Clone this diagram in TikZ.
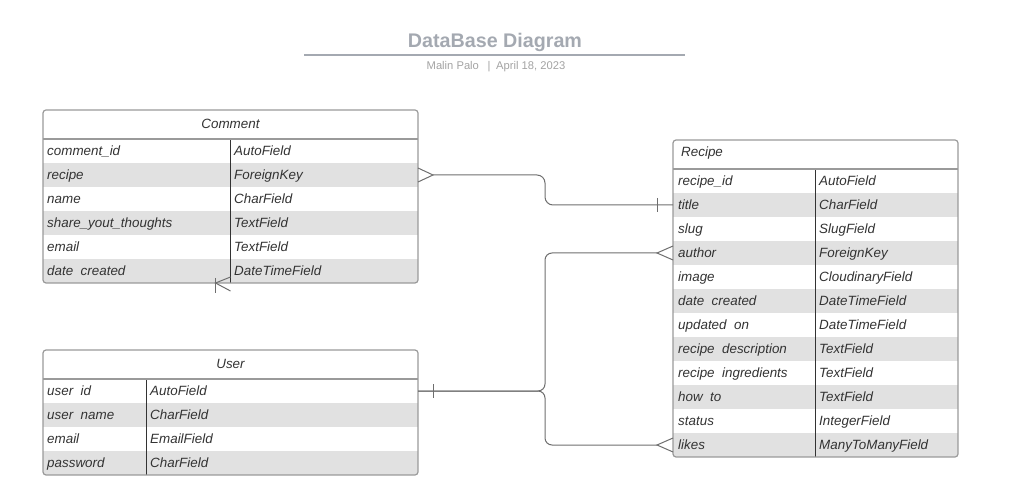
\documentclass[tikz,border=0pt]{standalone}
\usepackage{fontspec}
\setmainfont{Liberation Sans}

\definecolor{titlegray}{HTML}{A4A9B1}
\definecolor{subgray}{HTML}{A3A3A3}
\definecolor{rowgray}{HTML}{E1E1E1}
\definecolor{framegray}{HTML}{9A9A9A}
\definecolor{inkgray}{HTML}{333333}
\definecolor{linkgray}{HTML}{6E6E6E}

\tikzset{
  fieldrow/.style={minimum height=24, minimum width=#1, inner sep=0, outer sep=0, anchor=north west},
  fieldtxt/.style={anchor=base west, inner sep=0, text=inkgray, font=\fontsize{13.4}{15}\selectfont\itshape},
  headtxt/.style={inner sep=0, text=inkgray, font=\fontsize{13.4}{15}\selectfont\itshape},
  tablebox/.style={draw=framegray, line width=1.2, rounded corners=3},
  headline/.style={draw=framegray, line width=2},
  divider/.style={draw=inkgray, line width=0.9},
  link/.style={draw=linkgray, line width=1}
}

\begin{document}
\begin{tikzpicture}[x=1pt, y=-1pt]
    \useasboundingbox (0,0) rectangle (1009,502);

    % Draw the title
    \node[text=titlegray, font=\fontsize{19.7}{23}\selectfont\bfseries] (title) at (495,42) {DataBase Diagram};
    \draw[titlegray, line width=2] (304,55) -- (685,55);
    \node[text=subgray, font=\fontsize{11.2}{13}\selectfont] (byline) at (496,67) {Malin Palo \enspace|\enspace April 18, 2023};

    % Draw the Comment table
    \begin{scope}
        \clip[rounded corners=3] (43,110) rectangle (418,283);
        \foreach \fld/\typ [count=\i] in {comment\_id/AutoField, recipe/ForeignKey, name/CharField,
            share\_yout\_thoughts/TextField, email/TextField, date\ \ created/DateTimeField} {
            \pgfmathtruncatemacro\shade{100*(1-mod(\i,2))}
            \node[fieldrow=375, fill=rowgray!\shade] (cmt\i) at (43,{139+24*(\i-1)}) {};
            \node[fieldtxt] (cmtn\i) at ([xshift=4,yshift=-4.8]cmt\i.west) {\fld};
            \node[fieldtxt] (cmtt\i) at ([xshift=191,yshift=-4.8]cmt\i.west) {\typ};
        }
    \end{scope}
    \node[headtxt] (comment) at (230.5,124) {Comment};
    \draw[divider] (230,139) -- (230,283);
    \draw[headline] (43,139) -- (418,139);
    \draw[tablebox] (43,110) rectangle (418,283);

    % Draw the User table
    \begin{scope}
        \clip[rounded corners=3] (43,350) rectangle (418,475);
        \foreach \fld/\typ [count=\i] in {user\ \ id/AutoField, user\ \ name/CharField,
            email/EmailField, password/CharField} {
            \pgfmathtruncatemacro\shade{100*(1-mod(\i,2))}
            \node[fieldrow=375, fill=rowgray!\shade] (usr\i) at (43,{379+24*(\i-1)}) {};
            \node[fieldtxt] (usrn\i) at ([xshift=4,yshift=-4.8]usr\i.west) {\fld};
            \node[fieldtxt] (usrt\i) at ([xshift=107,yshift=-4.8]usr\i.west) {\typ};
        }
    \end{scope}
    \node[headtxt] (user) at (230.5,363.5) {User};
    \draw[divider] (146,379) -- (146,475);
    \draw[headline] (43,379) -- (418,379);
    \draw[tablebox] (43,350) rectangle (418,475);

    % Draw the Recipe table
    \begin{scope}
        \clip[rounded corners=3] (673,140) rectangle (958,457);
        \foreach \fld/\typ [count=\i] in {recipe\_id/AutoField, title/CharField, slug/SlugField,
            author/ForeignKey, image/CloudinaryField, date\ \ created/DateTimeField,
            updated\ \ on/DateTimeField, recipe\ \ description/TextField,
            recipe\ \ ingredients/TextField, how\ \ to/TextField, status/IntegerField,
            likes/ManyToManyField} {
            \pgfmathtruncatemacro\shade{100*(1-mod(\i,2))}
            \node[fieldrow=285, fill=rowgray!\shade] (rec\i) at (673,{169+24*(\i-1)}) {};
            \node[fieldtxt] (recn\i) at ([xshift=5,yshift=-4.8]rec\i.west) {\fld};
            \node[fieldtxt] (rect\i) at ([xshift=146,yshift=-4.8]rec\i.west) {\typ};
        }
    \end{scope}
    \node[headtxt, anchor=west] (recipe) at (681,153.5) {Recipe};
    \draw[divider] (815,169) -- (815,457);
    \draw[headline] (673,169) -- (958,169);
    \draw[tablebox] (673,140) rectangle (958,457);

    % Draw the Comment -> Recipe link
    \draw[link] ([yshift=7]cmt2.east) -- ([xshift=15]cmt2.east) -- ([yshift=-7]cmt2.east);
    \draw[link, rounded corners=8] ([xshift=15]cmt2.east) -- ++(112,0) |- (rec2.west);
    \draw[link] ([xshift=-16,yshift=7]rec2.west) -- ([xshift=-16,yshift=-7]rec2.west);

    % Draw the User -> Recipe links
    \draw[link] ([xshift=15,yshift=7]usr1.east) -- ([xshift=15,yshift=-7]usr1.east);
    \draw[link, rounded corners=7] (usr1.east) -- ++(127,0) |- ([xshift=-16]rec4.west);
    \draw[link, rounded corners=7] (usr1.east) -- ++(127,0) |- ([xshift=-16]rec12.west);
    \draw[link] ([yshift=7]rec4.west) -- ([xshift=-16]rec4.west) -- ([yshift=-7]rec4.west);
    \draw[link] ([yshift=7]rec12.west) -- ([xshift=-16]rec12.west) -- ([yshift=-7]rec12.west);

    % Draw the loose end under Comment
    \draw[link] ([yshift=6]cmt6.south) -- ([xshift=-15]cmt6.south) -- ([yshift=-8]cmt6.south);
    \draw[link] ([xshift=-15,yshift=5]cmt6.south) -- ([xshift=-15,yshift=-10]cmt6.south);
\end{tikzpicture}
\end{document}
